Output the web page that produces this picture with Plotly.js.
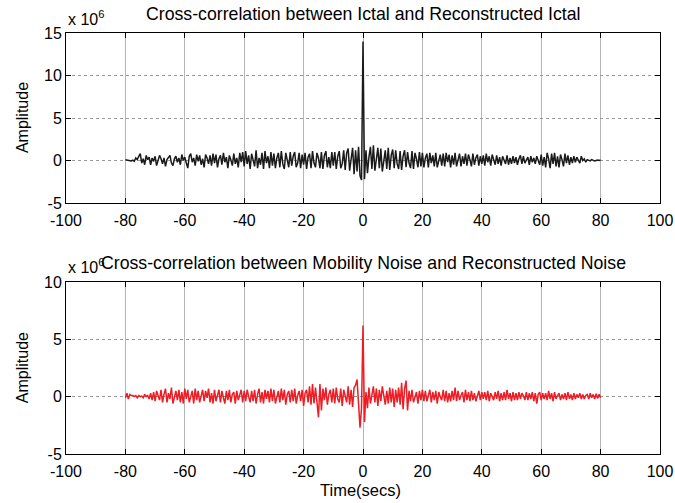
<!DOCTYPE html>
<html>
<head>
<meta charset="utf-8">
<script src="https://cdn.plot.ly/plotly-3.0.1.min.js"></script>
<style>html,body{margin:0;padding:0;background:#fff;} #chart{width:675px;height:503px;}</style>
</head>
<body>
<div id="chart"></div>
<script>
// Time axis: samples from -80 s every 0.5 s to 80 s
const timeStart = -80;
const timeStep = 0.5;
const xTickVals = [-100,-80,-60,-40,-20,0,20,40,60,80,100];
const yTopTicks = [-5,0,5,10,15];
const yBotTicks = [-5,0,5,10];

// Cross-correlation Ictal vs Reconstructed Ictal (x 10^6)
const ictalXcorr = [
 0.1,0.08,0.05,0.0,-0.05,0.05,-0.1,0.3,0.1,0.5,0.8,-0.3,0.2,-0.5,0.6,0.1,0.4,-0.5,0.3,-0.1,
 0.5,-0.6,-0.1,0.6,0.2,-0.4,0.3,-0.7,0.1,0.4,0.6,-0.3,-0.6,0.2,0.5,-0.2,0.3,-0.5,0.7,0.0,
 0.4,-0.3,-0.9,0.5,0.8,-0.2,0.3,-0.6,0.7,-0.1,0.6,-0.5,0.2,-0.8,0.7,0.3,-0.4,0.6,-0.6,0.8,
 -0.3,0.7,-0.8,0.2,0.6,-0.5,0.9,-0.2,0.4,-0.9,0.6,0.1,-0.6,0.8,-0.4,0.3,-0.8,0.9,-0.2,1.0,
 -0.7,1.1,-0.4,0.6,-1.0,0.8,0.2,-0.7,1.2,-0.9,0.3,-0.5,0.9,-1.0,1.1,-0.3,0.5,-0.9,1.0,-0.6,
 0.8,-0.9,0.3,0.9,-0.8,1.1,-0.4,-1.0,0.9,0.2,-0.8,1.0,-0.6,0.5,1.0,-0.8,-0.3,0.9,-0.9,0.7,
 -0.5,0.9,-1.0,0.4,0.8,-0.9,1.1,-0.3,-0.8,0.9,0.3,-0.9,1.0,-1.0,0.6,1.1,-0.8,0.4,-0.9,1.0,
 -0.6,1.0,-1.0,0.5,1.1,-0.9,-0.4,1.2,-1.1,0.9,1.4,-1.2,0.6,1.5,-1.6,1.2,-1.3,1.6,-1.8,-2.3,
 14.0,
 -2.2,1.2,-1.5,0.4,1.6,-1.0,1.8,-1.2,0.5,1.5,-0.9,1.4,-1.3,0.3,1.2,-1.0,1.5,-1.1,0.6,1.3,
 -0.9,1.2,-0.4,-1.0,1.1,-1.1,0.5,1.2,-0.8,1.0,-0.3,-0.9,1.1,-1.0,0.9,0.2,-0.8,1.0,-0.7,0.9,
 -0.8,0.3,0.8,-0.8,0.9,-0.3,0.6,-0.7,0.9,-0.8,0.2,0.7,-0.6,0.8,-0.7,0.9,-0.2,0.7,-0.8,0.6,
 -0.5,0.9,-0.7,0.2,0.8,-0.7,0.5,-0.4,0.8,-0.6,0.7,0.1,-0.7,0.8,-0.5,0.3,0.7,-0.6,0.5,-0.4,
 0.6,-0.6,0.8,-0.2,0.5,-0.6,0.7,0.1,-0.5,0.6,-0.4,0.4,-0.6,0.5,0.1,-0.4,0.6,-0.5,0.3,-0.4,
 0.5,-0.3,0.4,-0.5,0.2,0.6,-0.4,0.5,-0.3,0.1,0.4,-0.5,0.5,-0.2,0.3,-0.4,0.5,0.0,-0.5,0.7,
 -0.6,0.4,-0.8,0.9,0.2,-0.9,0.8,-0.4,0.9,-0.7,0.5,-0.8,0.7,0.1,-0.7,0.8,-0.3,0.6,-0.5,0.4,
 -0.3,0.5,-0.2,0.4,0.1,-0.3,0.5,0.0,0.2,-0.2,0.1,0.0,-0.05,0.1,0.0,-0.05,0.0,0.05,0.0,0.05
];

// Cross-correlation Mobility Noise vs Reconstructed Noise (x 10^6)
const noiseXcorr = [
 -0.1,0.3,-0.2,0.2,0.1,0.1,0.0,0.1,-0.1,0.1,0.0,0.05,-0.1,0.2,0.0,0.1,-0.2,0.3,-0.3,0.4,
 -0.4,0.5,0.1,-0.3,0.6,-0.5,0.2,0.7,-0.5,0.3,-0.2,0.8,-0.6,0.1,0.5,-0.3,0.6,-0.5,0.4,-0.6,
 0.7,-0.2,0.6,-0.5,0.1,0.5,-0.6,0.7,-0.3,0.5,-0.5,0.2,0.6,-0.4,0.5,-0.1,0.7,-0.5,0.3,-0.6,
 0.6,-0.4,0.2,0.6,-0.5,0.5,-0.1,-0.6,0.5,-0.3,0.6,-0.5,0.2,0.4,-0.6,0.5,-0.3,0.1,0.6,-0.5,
 0.5,-0.4,0.6,0.0,-0.5,0.5,-0.4,0.6,-0.6,0.2,0.7,-0.5,0.4,-0.6,0.6,-0.2,0.5,-0.5,0.7,-0.4,
 0.6,-0.6,0.1,0.5,-0.5,0.7,-0.3,0.6,-0.7,0.2,0.5,-0.5,0.6,-0.4,0.7,-0.6,0.1,0.5,-0.4,0.6,
 -0.8,0.3,0.6,-0.5,0.9,-0.7,1.1,-0.6,0.8,-0.9,-1.8,1.1,-1.2,0.7,-0.3,0.8,-0.7,0.2,0.6,-0.5,
 0.7,-0.6,0.8,-0.2,-0.5,0.7,-0.8,0.6,0.1,-0.5,0.9,-0.7,0.6,-0.9,0.8,1.0,1.5,-0.9,-2.7,-1.0,
 6.2,
 -2.2,0.4,-1.0,0.8,-0.6,0.2,0.9,-0.5,0.7,-0.8,0.6,-0.4,0.9,0.1,-0.7,0.5,-0.6,0.8,-0.5,0.7,
 -0.9,0.6,-0.5,0.8,-0.7,1.2,-1.1,0.7,1.4,-1.2,0.5,-0.4,0.6,-0.5,0.1,0.4,-0.6,0.5,-0.3,0.6,
 -0.4,0.5,-0.4,0.1,0.6,-0.5,0.4,-0.3,0.5,-0.6,0.4,0.0,-0.3,0.6,-0.4,0.5,-0.5,0.3,-0.4,0.5,
 -0.3,0.8,-0.4,0.5,-0.3,0.1,0.4,-0.5,0.6,-0.3,0.4,-0.4,0.5,-0.3,0.3,-0.4,0.0,0.5,-0.3,0.4,
 -0.2,0.4,-0.3,0.5,-0.4,0.3,0.0,-0.3,0.4,-0.2,0.5,-0.4,0.3,-0.3,0.4,-0.3,0.6,-0.2,0.3,-0.4,
 0.4,-0.3,0.3,-0.3,0.4,-0.2,0.3,0.1,-0.3,0.4,-0.3,0.3,-0.2,0.4,-0.4,0.3,-0.6,0.2,0.4,-0.3,
 0.3,-0.2,0.3,-0.3,0.5,-0.2,0.3,-0.4,0.4,-0.2,0.1,0.3,-0.3,0.2,-0.2,0.3,-0.3,0.4,-0.2,0.2,
 -0.3,0.3,-0.2,0.2,-0.1,0.3,-0.2,0.2,-0.2,0.1,0.2,-0.2,0.3,-0.1,0.2,-0.2,0.25,-0.15,0.2,-0.1
];

const topTitle = 'Cross-correlation between Ictal and Reconstructed Ictal';
const botTitle = 'Cross-correlation between Mobility Noise and Reconstructed Noise';
const yLabel = 'Amplitude';
const xLabel = 'Time(secs)';
const expLabel = 'x 10<sup>6</sup>';

const FONT = 'Liberation Sans, Arial, sans-serif';

const traces = [
  {x0: timeStart, dx: timeStep, y: ictalXcorr, type: 'scatter', mode: 'lines',
   line: {color: '#1a1a1a', width: 1.5}, xaxis: 'x', yaxis: 'y', hoverinfo: 'skip'},
  {x0: timeStart, dx: timeStep, y: noiseXcorr, type: 'scatter', mode: 'lines',
   line: {color: '#ee1c24', width: 1.5}, xaxis: 'x2', yaxis: 'y2', hoverinfo: 'skip'}
];

function xax(anchor) {
  return {range: [-100, 100], tickvals: xTickVals, ticktext: xTickVals.map(String),
    showline: true, linecolor: '#000', linewidth: 1, mirror: 'ticks', ticks: 'inside', ticklen: 5,
    tickcolor: '#000', showgrid: true, gridcolor: '#b5b5b5', gridwidth: 1, zeroline: false,
    ticklabelstandoff: 3,
    tickfont: {family: FONT, size: 16, color: '#000'}, anchor: anchor, domain: [0, 1]};
}
function yax(range, ticks, domain, anchor) {
  return {range: range, tickvals: ticks, ticktext: ticks.map(String),
    showline: true, linecolor: '#000', linewidth: 1, mirror: 'ticks', ticks: 'inside', ticklen: 5,
    tickcolor: '#000', showgrid: true, gridcolor: '#999', griddash: 'dot', gridwidth: 1, zeroline: false,
    tickfont: {family: FONT, size: 16, color: '#000'}, domain: domain, anchor: anchor};
}

const ann = (text, x, y, size, xanchor, extra) => Object.assign({
  text: text, xref: 'paper', yref: 'paper', x: x, y: y, xanchor: xanchor, yanchor: 'middle',
  showarrow: false, font: {family: FONT, size: size, color: '#000'}}, extra || {});

const layout = {
  width: 675, height: 503,
  margin: {l: 66, r: 15, t: 33, b: 49},
  paper_bgcolor: '#fff', plot_bgcolor: '#fff',
  showlegend: false,
  xaxis: xax('y'),
  yaxis: yax([-5, 15], yTopTicks, [0.5962, 1], 'x'),
  xaxis2: xax('y2'),
  yaxis2: yax([-5, 10], yBotTicks, [0, 0.4086], 'x2'),
  annotations: [
    ann(topTitle, 0.5, 1.046, 17.7, 'center'),
    ann(botTitle, 0.5, 0.4537, 17.7, 'center'),
    ann(expLabel, 0.0, 1.036, 16, 'left'),
    ann(expLabel, 0.0, 0.446, 16, 'left'),
    ann(yLabel, -0.074, 0.798, 16, 'center', {textangle: -90}),
    ann(yLabel, -0.074, 0.204, 16, 'center', {textangle: -90}),
    ann(xLabel, 0.495, -0.0855, 16.5, 'center')
  ]
};

Plotly.newPlot('chart', traces, layout, {staticPlot: true, displayModeBar: false});
</script>
</body>
</html>
